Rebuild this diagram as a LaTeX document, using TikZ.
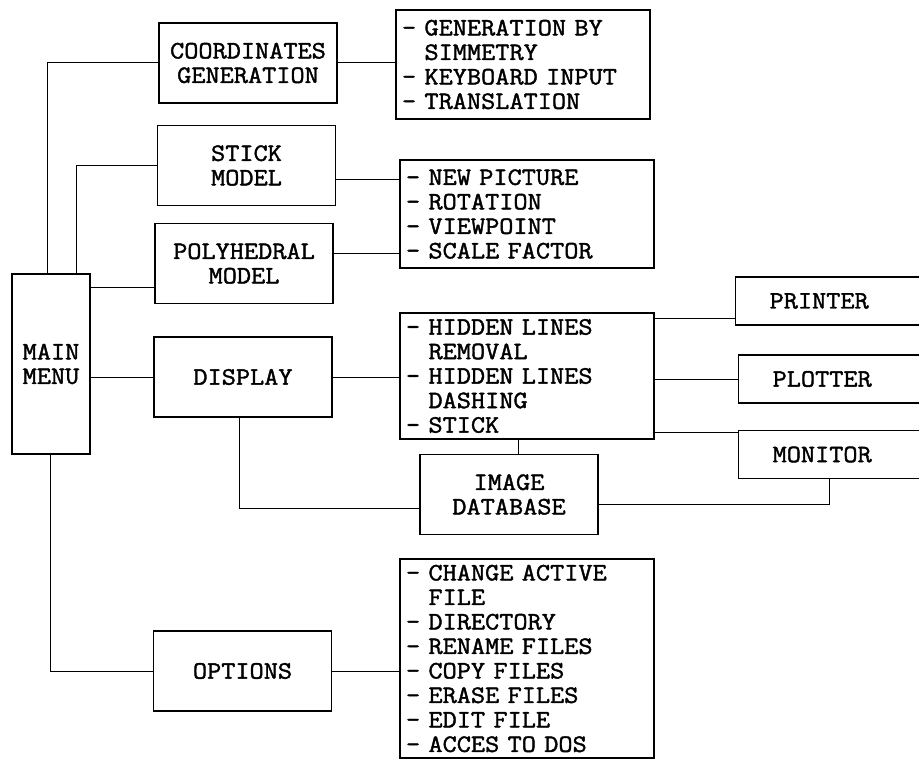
\documentclass[tikz,border=0pt]{standalone}
\usepackage{fontspec}
\newfontfamily\scanfont{Latin Modern Mono}[FakeStretch=1.1,FakeBold=1.6]
\usetikzlibrary{calc}
\newcommand\contline{\hphantom{- }}

\begin{document}
\begin{tikzpicture}[x=1pt,y=-1pt,line width=1pt,
  every node/.style={draw,line width=1.2pt,font=\scanfont\fontsize{25}{24.5}\selectfont},
  menubox/.style={align=center,minimum width=178pt,minimum height=80pt},
  listbox/.style={align=left,text width=242pt,inner xsep=6pt},
  outbox/.style={anchor=west,align=left,text width=120pt,inner xsep=34pt,minimum height=48pt}]
    \useasboundingbox (0,0) rectangle (919,760);
    \node[align=center,minimum width=78pt,minimum height=180pt] (main) at (51,364) {MAIN\\MENU};
    \node[menubox] (coord) at (248,63) {COORDINATES\\GENERATION};
    \node[menubox] (stick) at (246.5,165.5) {STICK\\MODEL};
    \node[menubox] (poly) at (244,263.5) {POLYHEDRAL\\MODEL};
    \node[menubox] (disp) at (243,377) {DISPLAY};
    \node[menubox] (opts) at (242.5,671) {OPTIONS};
    \node[menubox] (imgdb) at (509,494.5) {IMAGE\\DATABASE};
    \node[listbox,minimum height=109pt] (coordlist) at (523,64.5) {- GENERATION BY\\\contline SIMMETRY\\- KEYBOARD INPUT\\- TRANSLATION};
    \node[listbox,minimum height=108pt] (stlist) at (527,214) {- NEW PICTURE\\- ROTATION\\- VIEWPOINT\\- SCALE FACTOR};
    \node[listbox,minimum height=126pt] (dlist) at (527,376) {- HIDDEN LINES\\\contline REMOVAL\\- HIDDEN LINES\\\contline DASHING\\- STICK};
    \node[listbox,minimum height=199pt] (olist) at (527,658.5) {- CHANGE ACTIVE\\\contline FILE\\- DIRECTORY\\- RENAME FILES\\- COPY FILES\\- ERASE FILES\\- EDIT FILE\\- ACCES TO DOS};
    \node[outbox] (printer) at (735,301) {PRINTER};
    \node[outbox] (plotter) at (738,379) {PLOTTER};
    \node[outbox] (monitor) at (738,454.5) {MONITOR};
    \coordinate (polyin) at ([yshift=-24pt]poly.west);
    \coordinate (stickout) at ([yshift=-13.5pt]stick.east);
    \coordinate (polyout) at ([yshift=10.5pt]poly.east);
    \coordinate (printin) at ([yshift=-17pt]printer.west);
    \coordinate (monin) at ([yshift=-3pt]monitor.north west);
    \coordinate (dbin) at ([yshift=-13.5pt]imgdb.west);
    \coordinate (dbout) at ([yshift=-9.5pt]imgdb.east);
    \coordinate (dbtop) at ([xshift=9pt]imgdb.north);
    \draw ([xshift=-4pt]main.north) |- (coord.west);
    \draw ([xshift=25pt]main.north) |- (stick.west);
    \draw (polyin -| main.east) -- (polyin);
    \draw (disp.west -| main.east) -- (disp.west);
    \draw ([xshift=-1pt]main.south) |- (opts.west);
    \draw (coord.east) -- (coord.east -| coordlist.west);
    \draw (stickout) -- (stickout -| stlist.west);
    \draw (polyout) -- (polyout -| stlist.west);
    \draw (disp.east) -- (disp.east -| dlist.west);
    \draw (printin -| dlist.east) -- (printin);
    \draw (plotter.west -| dlist.east) -- (plotter.west);
    \draw (monin -| dlist.east) -- (monin);
    \draw ([xshift=-4pt]disp.south) |- (dbin);
    \draw (dbtop) -- (dbtop |- dlist.south);
    \draw (dbout) -| ([xshift=-3pt]monitor.south);
    \draw (opts.east) -- (opts.east -| olist.west);
  \end{tikzpicture}
\end{document}
